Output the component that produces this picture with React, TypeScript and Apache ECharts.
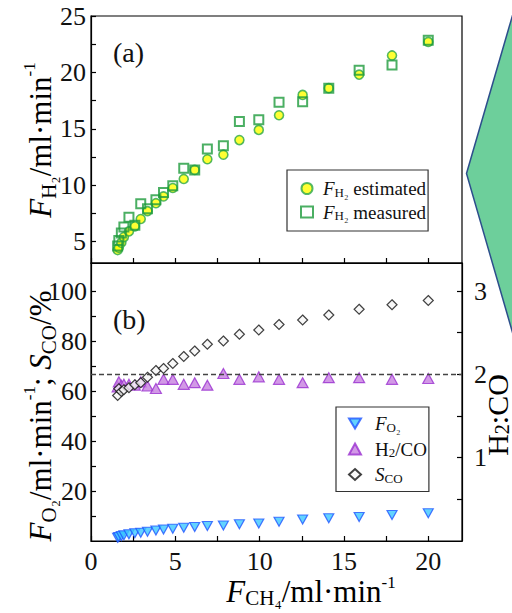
import React, { useEffect, useRef } from "react";
import * as echarts from "echarts";

// ---- data ----
const fCH4 = [1.58, 1.65, 1.8, 1.95, 2.25, 2.6, 2.95, 3.35, 3.85, 4.3, 4.85, 5.5, 6.15, 6.9, 7.85, 8.8, 9.95, 11.15, 12.55, 14.1, 15.9, 17.85, 20.0];
const fH2Estimated = [4.25, 4.45, 4.9, 5.4, 5.9, 6.35, 7.0, 7.7, 8.4, 9.0, 9.75, 10.55, 11.35, 12.3, 12.7, 14.0, 14.9, 16.2, 18.0, 18.6, 19.8, 21.5, 22.7];
const fH2Measured = [4.6, 5.1, 5.75, 6.3, 7.15, 6.45, 8.35, 7.9, 8.7, 9.35, 9.95, 11.5, 11.35, 13.2, 13.5, 15.65, 15.8, 17.35, 17.4, 18.6, 20.2, 20.65, 22.85];
const fO2 = [1.3, 1.6, 2.0, 2.3, 2.7, 3.1, 3.3, 3.7, 4.2, 4.6, 4.9, 5.3, 5.6, 6.0, 6.2, 6.7, 7.0, 7.7, 8.6, 9.1, 9.6, 10.4, 11.1];
const h2co = [1.85, 1.91, 1.87, 1.88, 1.88, 1.87, 1.91, 1.86, 1.83, 1.94, 1.94, 1.88, 1.9, 1.87, 2.01, 1.94, 1.97, 1.94, 1.9, 1.96, 1.96, 1.94, 1.95];
const sCO = [58.2, 60.9, 59.8, 60.5, 61.3, 62.5, 63.3, 65.5, 68.2, 69.0, 71.0, 73.8, 76.0, 78.7, 80.0, 82.7, 84.4, 86.6, 88.4, 90.4, 92.7, 94.5, 96.2];

const xTicks = [0, 2.5, 5, 7.5, 10, 12.5, 15, 17.5, 20];
const xLabels = [0, 5, 10, 15, 20];
const topYTicks = [5, 7.5, 10, 12.5, 15, 17.5, 20, 22.5, 25];
const topYLabels = [5, 10, 15, 20, 25];
const leftYTicks = [10, 20, 30, 40, 50, 60, 70, 80, 90, 100];
const leftYLabels = [20, 40, 60, 80, 100];
const rightYTicks = [0.5, 1, 1.5, 2, 2.5, 3];
const rightYLabels = [1, 2, 3];
const h2coTarget = 2;

const SERIF = "Liberation Serif";
const zip = (xs: number[], ys: number[]) => xs.map((x, i) => [x, ys[i]]);

const mkRich = (size: number, lh: number) => ({
  it: { fontFamily: SERIF, fontStyle: "italic", fontSize: size, lineHeight: lh, color: "#111" },
  n: { fontFamily: SERIF, fontSize: size, lineHeight: lh, color: "#111" },
  sub: { fontFamily: SERIF, fontSize: Math.round(size * 0.68), lineHeight: Math.round(size * 0.68), verticalAlign: "bottom", color: "#111" },
  sup: { fontFamily: SERIF, fontSize: Math.round(size * 0.55), lineHeight: Math.round(size * 0.55), verticalAlign: "top", color: "#111" },
});
const titleRich = mkRich(31, 38);
const xTitleRich = mkRich(31, 34);
const rightRich = mkRich(30, 30);
const legendRich = {
  it: { fontFamily: SERIF, fontStyle: "italic", fontSize: 19, lineHeight: 20, color: "#111" },
  n: { fontFamily: SERIF, fontSize: 19, lineHeight: 20, color: "#111" },
  sub: { fontFamily: SERIF, fontSize: 13, lineHeight: 13, verticalAlign: "bottom", color: "#111" },
};
const legendNames: Record<string, string> = {
  est: "{it|F}{sub|H₂}{n| estimated}",
  meas: "{it|F}{sub|H₂}{n| measured}",
  fo2: "{it|F}{sub|O₂}",
  h2co: "{n|H}{sub|2}{n|/CO}",
  sco: "{it|S}{sub|CO}",
};

const tickLabel = { fontFamily: SERIF, fontSize: 26, color: "#111" };

export default function App() {
  const ref = useRef<HTMLDivElement>(null);
  useEffect(() => {
    const chart = echarts.init(ref.current!, null, { renderer: "svg" });
    const axisLine = { show: true, lineStyle: { color: "#000", width: 1.2 } };
    const tick = (vals: number[]) => ({ show: true, inside: true, length: 5, customValues: vals, lineStyle: { color: "#000", width: 1.2 } });
    chart.setOption({
      animation: false,
      backgroundColor: "#fff",
      grid: [
        { left: 91, right: 50, top: 16, height: 247, show: true, borderColor: "#000", borderWidth: 1.2 },
        { left: 91, right: 50, top: 263, height: 278, show: true, borderColor: "#000", borderWidth: 1.2 },
      ],
      xAxis: [
        { type: "value", gridIndex: 0, min: 0, max: 22, axisLine, axisTick: tick(xTicks), axisLabel: { show: false }, splitLine: { show: false } },
        { type: "value", gridIndex: 1, min: 0, max: 22, axisLine, axisTick: tick(xTicks), axisLabel: { ...tickLabel, margin: 7, customValues: xLabels }, splitLine: { show: false } },
      ],
      yAxis: [
        { type: "value", gridIndex: 0, min: 3.1, max: 25, axisLine, axisTick: tick(topYTicks), axisLabel: { ...tickLabel, margin: 5, customValues: topYLabels }, splitLine: { show: false } },
        { type: "value", gridIndex: 1, min: 0, max: 111.2, axisLine, axisTick: tick(leftYTicks), axisLabel: { ...tickLabel, margin: 4, customValues: leftYLabels }, splitLine: { show: false } },
        { type: "value", gridIndex: 1, position: "right", min: 0, max: 111.2 / 33.333, axisLine, axisTick: tick(rightYTicks), axisLabel: { ...tickLabel, margin: 12, customValues: rightYLabels }, splitLine: { show: false } },
      ],
      legend: [
        {
          data: ["est", "meas"], orient: "vertical", left: 287, top: 170, padding: [9, 2, 9, 13], itemGap: 4,
          itemWidth: 12, itemHeight: 11, borderColor: "#333", borderWidth: 1.2, backgroundColor: "#fff",
          formatter: (n: string) => legendNames[n], textStyle: { rich: legendRich, padding: [0, 0, 0, 5] },
        },
        {
          data: ["fo2", "h2co", "sco"], orient: "vertical", left: 336, top: 407, padding: [7, 2, 7, 12], itemGap: 6,
          itemWidth: 12, itemHeight: 11, borderColor: "#333", borderWidth: 1.2, backgroundColor: "#fff",
          formatter: (n: string) => legendNames[n], textStyle: { rich: legendRich, padding: [0, 0, 0, 9] },
        },
      ],
      series: [
        { name: "est", type: "scatter", xAxisIndex: 0, yAxisIndex: 0, data: zip(fCH4, fH2Estimated), symbol: "circle", symbolSize: 9, z: 2,
          itemStyle: { color: "#ffff00", borderColor: "#2aa84a", borderWidth: 1.6 } },
        { name: "meas", type: "scatter", xAxisIndex: 0, yAxisIndex: 0, data: zip(fCH4, fH2Measured), symbol: "rect", symbolSize: 9, z: 3,
          itemStyle: { color: "rgba(255,255,255,0)", borderColor: "#1e9b3c", borderWidth: 2 } },
        { name: "fo2", type: "scatter", xAxisIndex: 1, yAxisIndex: 1, data: zip(fCH4, fO2), symbol: "path://M0,0L20,0L10,17Z", symbolSize: [10, 9], z: 2,
          itemStyle: { color: "#3cc8ff", borderColor: "#1f55ff", borderWidth: 1.2 } },
        { name: "h2co", type: "scatter", xAxisIndex: 1, yAxisIndex: 2, data: zip(fCH4, h2co), symbol: "triangle", symbolSize: [11, 10], z: 3,
          itemStyle: { color: "#c77fe0", borderColor: "#9a2fd0", borderWidth: 1.2 },
          markLine: { silent: true, symbol: "none", label: { show: false }, lineStyle: { color: "#444", type: [5, 3], width: 1.3 }, data: [{ yAxis: h2coTarget }] } },
        { name: "sco", type: "scatter", xAxisIndex: 1, yAxisIndex: 1, data: zip(fCH4, sCO), symbol: "diamond", symbolSize: [10, 10], z: 4,
          itemStyle: { color: "#f6f6f6", borderColor: "#111", borderWidth: 1.2 } },
      ],
      graphic: [
        { type: "polygon", z: -1, shape: { points: [[466.5, 173.5], [517, 0], [600, 0], [600, 350], [517, 348]] },
          style: { fill: "#6dcf9b", stroke: "#2d4e8c", lineWidth: 1.5 } },
        { type: "text", x: 113, y: 52, style: { text: "(a)", fontFamily: SERIF, fontSize: 28, fill: "#111", verticalAlign: "middle" } },
        { type: "text", x: 113, y: 319, style: { text: "(b)", fontFamily: SERIF, fontSize: 28, fill: "#111", verticalAlign: "middle" } },
        { type: "text", x: 40, y: 140, rotation: Math.PI / 2, style: { text: "{it|F}{sub|H₂}{n|/ml·min}{sup|-1}", rich: titleRich, align: "center", verticalAlign: "middle" } },
        { type: "text", x: 40, y: 416, rotation: Math.PI / 2, style: { text: "{it|F}{sub|O₂}{n|/ml·min}{sup|-1}{n|; }{it|S}{sub|CO}{n|/%}", rich: titleRich, align: "center", verticalAlign: "middle" } },
        { type: "text", x: 497, y: 415, rotation: Math.PI / 2, style: { text: "{n|H}{sub|2}{n|:CO}", rich: rightRich, align: "center", verticalAlign: "middle" } },
        { type: "text", x: 311, y: 591, style: { text: "{it|F}{sub|CH₄}{n|/ml·min}{sup|-1}", rich: xTitleRich, align: "center", verticalAlign: "middle" } },
      ],
    });
    return () => chart.dispose();
  }, []);
  return <div ref={ref} style={{ position: "absolute", left: 0, top: 0, width: 512, height: 613 }} />;
}
